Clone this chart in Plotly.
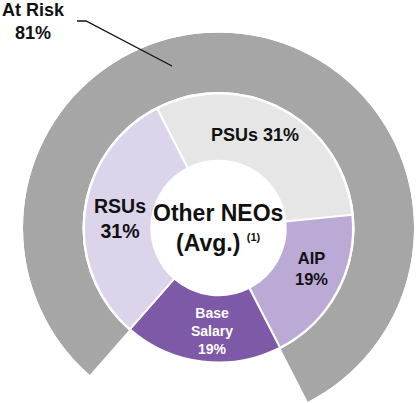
import math
import plotly.graph_objects as go

# Other NEOs (average) target pay mix, % of total
labels = ["PSUs", "AIP", "Base<br>Salary", "RSUs"]
shares = [31, 19, 19, 31]
label_sep = [" ", "<br>", "<br>", "<br>"]
slice_colors = ["#e6e6e6", "#bcaad6", "#7d59a8", "#dcd4ea"]
text_colors = ["#111111", "#111111", "#ffffff", "#111111"]
text_sizes = [18, 16.5, 14, 19.5]
label_nudge = [-7, -5, -3.5, -1.5]      # deg, label placement tweak
label_r = [100, 101, 103, 99]           # px from centre

at_risk_label = "At Risk"
at_risk_share = 81
center_title = "Other NEOs<br>(Avg.) <sup><span style='font-size:11px'>(1)</span></sup>"

W, H = 417, 403
FONT = "Liberation Sans"
cx, cy = 218.5, 228.0      # ring centre in px
r_pie, r_out, r_out_in = 134.5, 195.5, 136.0

# base salary sits centred at ~187 deg (clockwise from 12 o'clock)
base_idx = 2
rotation = 187 - 3.6 * (sum(shares[:base_idx]) + shares[base_idx] / 2)

# at-risk arc starts where base salary ends
risk_start = rotation + 3.6 * sum(shares[:base_idx + 1])
risk_width = 3.6 * at_risk_share
risk_mid = (risk_start + risk_width / 2) % 360

# polar sector (ccw from east) covering only the at-risk arc
s_end = 90 - risk_start
s_start = s_end - risk_width
sector = [s_start - 0.5, s_end + 0.5]
y_low = min(math.sin(math.radians(sector[0])), math.sin(math.radians(sector[1])))

fig = go.Figure()

fig.add_trace(go.Barpolar(
    r=[1], theta=[risk_mid], width=[risk_width],
    marker=dict(color="#a7a6a7", line=dict(width=0)),
    name=at_risk_label, showlegend=False,
))

fig.add_trace(go.Pie(
    labels=[l.replace("<br>", " ") for l in labels],
    values=shares,
    textinfo="none",
    marker=dict(colors=slice_colors, line=dict(color="white", width=2)),
    hole=0.5,
    sort=False,
    direction="clockwise",
    rotation=rotation,
    showlegend=False,
    domain=dict(x=[(cx - r_pie) / W, (cx + r_pie) / W],
                y=[1 - (cy + r_pie) / H, 1 - (cy - r_pie) / H]),
))

fig.update_layout(
    width=W, height=H,
    margin=dict(l=0, r=0, t=0, b=0),
    paper_bgcolor="white",
    polar=dict(
        domain=dict(x=[(cx - r_out) / W, (cx + r_out) / W],
                    y=[1 - (cy - y_low * r_out) / H, 1 - (cy - r_out) / H]),
        sector=sector,
        hole=r_out_in / r_out,
        bgcolor="rgba(0,0,0,0)",
        radialaxis=dict(range=[0, 1], visible=False, showgrid=False),
        angularaxis=dict(rotation=90, direction="clockwise", visible=False, showgrid=False),
    ),
    font=dict(family=FONT, color="#111111"),
)

# slice labels at the middle of each slice
cum = 0
for lab, sep, v, col, size, nd, rl in zip(labels, label_sep, shares, text_colors,
                                         text_sizes, label_nudge, label_r):
    ang = math.radians(rotation + 3.6 * (cum + v / 2) + nd)
    cum += v
    fig.add_annotation(
        x=(cx + rl * math.sin(ang)) / W, y=1 - (cy - rl * math.cos(ang)) / H,
        xref="paper", yref="paper", xanchor="center", yanchor="middle",
        text=f"{lab}{sep}{v}%", showarrow=False, align="center",
        font=dict(size=size, color=col, weight="bold"),
    )

fig.add_annotation(
    x=cx / W, y=1 - 227.5 / H, xref="paper", yref="paper",
    xanchor="center", yanchor="middle",
    text=center_title, showarrow=False,
    font=dict(size=23, weight="bold"), align="center",
)

fig.add_annotation(
    x=33 / W, y=1 - 21.5 / H, xref="paper", yref="paper",
    xanchor="center", yanchor="middle",
    text=f"{at_risk_label}<br>{at_risk_share}%", showarrow=False,
    font=dict(size=18, weight="bold"), align="center",
)

# leader line from the label to the ring
pts = [(77, 21), (86, 21), (172, 66)]
path = "M " + " L ".join(f"{x / W},{1 - y / H}" for x, y in pts)
fig.add_shape(type="path", path=path, xref="paper", yref="paper",
              line=dict(color="#111111", width=1.3))

fig.write_html("out.html", config={"displayModeBar": False},
               post_script="document.body.style.margin='0px';")
